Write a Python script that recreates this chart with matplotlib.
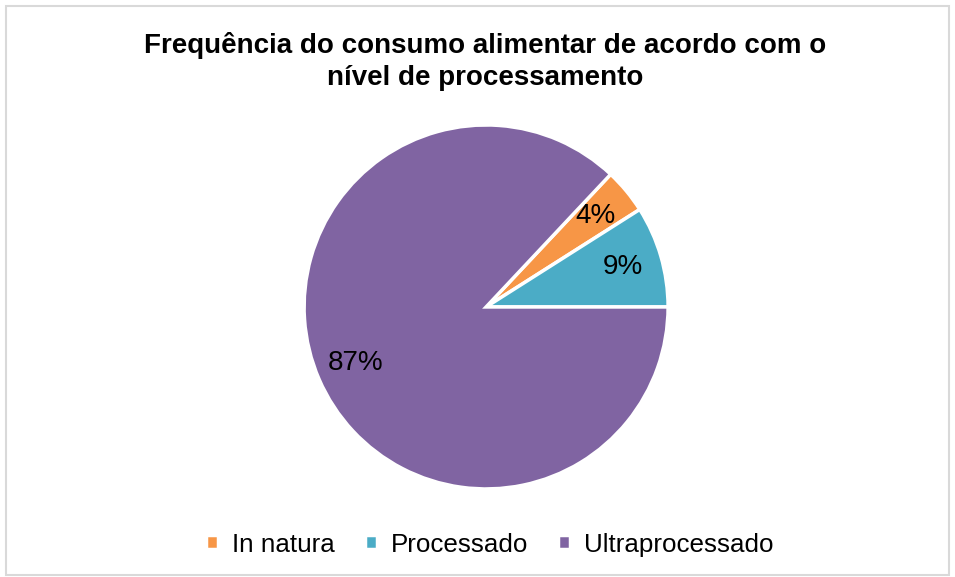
import matplotlib.pyplot as plt
from matplotlib.patches import Rectangle

plt.rcParams['font.family'] = ['Liberation Sans', 'DejaVu Sans']

# Data
categories = ['In natura', 'Processado', 'Ultraprocessado']
values = [4, 9, 87]
colors = ['#F79646', '#4BACC6', '#8064A2']

fig = plt.figure(figsize=(9.55, 5.77), dpi=100)

# light gray chart border
fig.patches.append(Rectangle((6 / 955, 2 / 577), 943 / 955, 569 / 577,
                             transform=fig.transFigure, fill=False,
                             edgecolor='#D9D9D9', linewidth=1.5))

ax = fig.add_axes([0.509 - 0.1906, 0.468 - 0.3154, 0.3812, 0.6308])
wedges, texts, autotexts = ax.pie(
    values, colors=colors, startangle=46.8, counterclock=False,
    autopct='%1.0f%%', pctdistance=0.78, radius=1.0,
    wedgeprops=dict(edgecolor='white', linewidth=2.5),
    textprops=dict(fontsize=20, color='black'))
ax.set_aspect('equal')
ax.set_xlim(-1.0, 1.0)
ax.set_ylim(-1.0, 1.0)

fig.text(0.508, 0.893, 'Frequência do consumo alimentar de acordo com o\nnível de processamento',
         ha='center', va='center', fontsize=20, fontweight='bold', linespacing=1.28)

fig.legend(wedges, categories, loc='center', bbox_to_anchor=(0.513, 0.056),
           ncol=3, frameon=False, fontsize=18.7, handlelength=0.45, handleheight=0.45,
           handletextpad=0.55, columnspacing=1.15)

fig.savefig('out.png', dpi=100)
